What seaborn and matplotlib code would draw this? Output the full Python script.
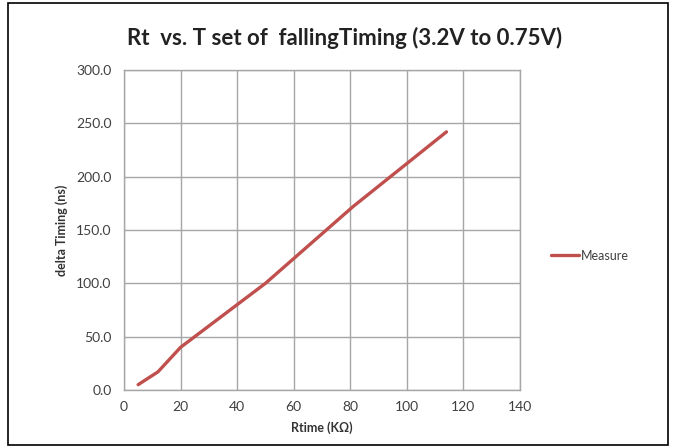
import matplotlib
matplotlib.use("Agg")
import matplotlib.pyplot as plt
import seaborn as sns
import pandas as pd
from matplotlib.patches import Rectangle

rtime = [5, 12, 20, 50, 81, 114]
delta = [5, 17, 40, 100, 172, 242]
xticks = [0, 20, 40, 60, 80, 100, 120, 140]
yticks = [0, 50, 100, 150, 200, 250, 300]

sns.set_style("white")
plt.rcParams['font.family'] = ['Lato', 'DejaVu Sans']

df = pd.DataFrame({"Rtime": rtime, "delta": delta, "series": "Measure"})

fig = plt.figure(figsize=(6.74, 4.46), dpi=100)
ax = fig.add_axes([124/674, 56/446, 396/674, 320/446])
sns.lineplot(data=df, x="Rtime", y="delta", hue="series", palette=["#C0504D"],
             linewidth=2.4, ax=ax, legend=True)

ax.set_xlim(0, 140)
ax.set_ylim(0, 300)
ax.set_xticks(xticks)
ax.set_yticks(yticks)
ax.set_yticklabels([f"{v:.1f}" for v in yticks])
ax.grid(True, color="#A6A6A6", linewidth=1)
for s in ax.spines.values():
    s.set_color("#A6A6A6")
    s.set_linewidth(1)
ax.tick_params(axis="both", colors="#404040", labelsize=10, length=0, pad=8)
ax.tick_params(axis="y", length=5, direction="out", color="#A6A6A6", pad=4)
for lab in ax.get_xticklabels() + ax.get_yticklabels():
    lab.set_color("#404040")

ax.set_xlabel("Rtime (KΩ)", fontsize=9, fontweight="bold", color="#333333", labelpad=6)
ax.set_ylabel("delta Timing (ns)", fontsize=9, fontweight="bold", color="#333333", labelpad=6)

fig.text(345/674, 1 - 38/446, "Rt  vs. T set of  fallingTiming (3.2V to 0.75V)",
         ha="center", va="center", fontsize=16, fontweight="bold", color="#222222")

leg = ax.legend(loc="center left", bbox_to_anchor=(1.05, 0.42), frameon=False,
                fontsize=9, handlelength=2.2, handletextpad=0.2)
for t in leg.get_texts():
    t.set_color("#404040")

fig.patches.append(Rectangle((8/674, 1/446), 660/674, 442/446, transform=fig.transFigure,
                             fill=False, edgecolor="black", linewidth=1.2))

fig.savefig("out.png", dpi=100)
